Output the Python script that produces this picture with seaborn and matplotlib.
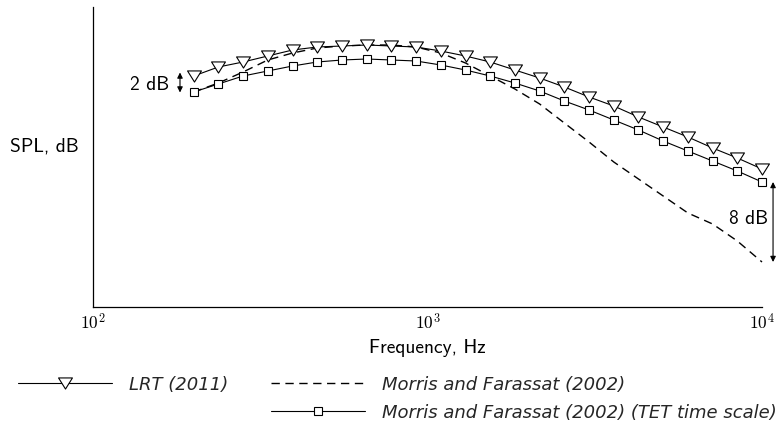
import matplotlib
matplotlib.use("Agg")
import matplotlib.pyplot as plt
from matplotlib.lines import Line2D
from matplotlib.path import Path
from matplotlib.ticker import NullLocator
import seaborn as sns

# Band centre frequencies, Hz
freq_hz = [200, 237, 281, 333, 395, 468, 555, 658, 780, 924, 1096, 1299,
           1540, 1825, 2164, 2565, 3041, 3605, 4273, 5065, 6004, 7118, 8437, 10000]

# Sound pressure level, dB
spl_lrt = [83.1, 84.0, 84.5, 85.1, 85.7, 86.0, 86.1, 86.2, 86.1, 86.0, 85.6, 85.1,
           84.5, 83.7, 82.9, 82.0, 81.0, 80.1, 79.0, 78.0, 77.0, 75.9, 74.9, 73.8]
spl_mf = [81.5, 82.4, 83.5, 84.7, 85.4, 85.9, 86.1, 86.2, 86.2, 86.0, 85.4, 84.4,
          83.1, 81.8, 80.3, 78.4, 76.5, 74.5, 72.8, 71.1, 69.4, 68.3, 66.6, 64.5]
spl_mf_tet = [81.5, 82.3, 83.1, 83.6, 84.1, 84.5, 84.7, 84.8, 84.7, 84.6, 84.2, 83.7,
              83.1, 82.4, 81.6, 80.6, 79.7, 78.7, 77.7, 76.6, 75.6, 74.6, 73.6, 72.5]

series_labels = ["LRT (2011)", "Morris and Farassat (2002)",
                 "Morris and Farassat (2002) (TET time scale)"]
x_ticks = [1e2, 1e3, 1e4]
x_tick_labels = [r"$10^2$", r"$10^3$", r"$10^4$"]

sns.set_theme(style="white")
plt.rcParams["font.family"] = ["cmss10", "DejaVu Sans"]
plt.rcParams["mathtext.fontset"] = "cm"
plt.rcParams["axes.unicode_minus"] = False
plt.rcParams["axes.formatter.use_mathtext"] = True

LABEL_SIZE = 14

fig = plt.figure(figsize=(7.79, 4.35), dpi=100)
ax = fig.add_axes([93 / 779, 1 - 308 / 435, 669 / 779, 300 / 435])

# Wide, down-pointing triangle marker
tri_down = Path([(-1, 0.8), (1, 0.8), (0, -0.8), (-1, 0.8)],
                [Path.MOVETO, Path.LINETO, Path.LINETO, Path.CLOSEPOLY])

sns.lineplot(x=freq_hz, y=spl_mf, ax=ax, color="black", lw=1.0,
             linestyle=(0, (6, 4)), label=series_labels[1], errorbar=None,
             clip_on=False)
sns.lineplot(x=freq_hz, y=spl_mf_tet, ax=ax, color="black", lw=0.8,
             marker="s", markersize=6, markerfacecolor="white",
             markeredgecolor="black", markeredgewidth=0.8,
             label=series_labels[2], errorbar=None, clip_on=False)
sns.lineplot(x=freq_hz, y=spl_lrt, ax=ax, color="black", lw=0.8,
             marker=tri_down, markersize=10, markerfacecolor="white",
             markeredgecolor="black", markeredgewidth=0.8,
             label=series_labels[0], errorbar=None, clip_on=False)

ax.set_xscale("log")
ax.set_xlim(100, 10000)
ax.set_ylim(60, 90)
ax.set_xticks(x_ticks, x_tick_labels)
ax.xaxis.set_minor_locator(NullLocator())
ax.set_yticks([])
ax.tick_params(axis="x", length=0, pad=3, labelsize=12.5, colors="black")
sns.despine(ax=ax)
for side in ("left", "bottom"):
    ax.spines[side].set_color("black")
    ax.spines[side].set_linewidth(0.9)

ax.set_xlabel("Frequency, Hz", fontsize=LABEL_SIZE, color="black", labelpad=5)
ax.set_ylabel("SPL, dB", fontsize=LABEL_SIZE, color="black", rotation=0,
              ha="right", va="center")
ax.yaxis.set_label_coords(-0.022, 0.537)

# Level-difference markers
arrow_kw = dict(arrowstyle="<|-|>", color="black", lw=0.8,
                mutation_scale=8, shrinkA=0, shrinkB=0)
ax.annotate("", xy=(182, spl_mf_tet[0] - 0.05), xytext=(182, spl_mf_tet[0] + 1.95),
            arrowprops=arrow_kw, annotation_clip=False)
ax.text(169, 82.3, "2 dB", ha="right", va="center", fontsize=LABEL_SIZE,
        color="black")
ax.annotate("", xy=(10790, spl_mf[-1]), xytext=(10790, spl_mf_tet[-1]),
            arrowprops=arrow_kw, annotation_clip=False)
ax.text(10420, 68.9, "8 dB", ha="right", va="center", fontsize=LABEL_SIZE,
        color="black")

lines = {ln.get_label(): ln for ln in ax.get_lines()}
ax.get_legend().remove()
blank = Line2D([], [], linestyle="none")
fig.legend(handles=[lines[series_labels[0]], blank,
                    lines[series_labels[1]], lines[series_labels[2]]],
           labels=[series_labels[0], "", series_labels[1], series_labels[2]],
           ncol=2, loc="upper left", bbox_to_anchor=(18 / 779, 1 - 376 / 435),
           frameon=False, borderpad=0, borderaxespad=0, handlelength=5.2,
           handletextpad=0.95, columnspacing=2.35, labelspacing=0.57,
           prop=dict(family="DejaVu Sans", style="oblique", size=13))

fig.savefig("out.png", dpi=100)
